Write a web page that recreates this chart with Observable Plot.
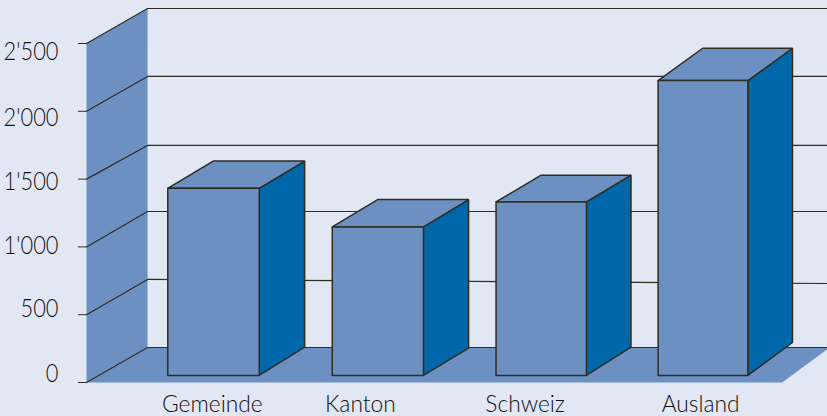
<!DOCTYPE html>
<html><head><meta charset="utf-8">
<script src="https://cdn.jsdelivr.net/npm/d3@7"></script>
<script src="https://cdn.jsdelivr.net/npm/@observablehq/plot@0.6"></script>
<style>html,body{margin:0;padding:0;background:#e1e7f3;overflow:hidden}svg{display:block}</style>
</head><body><div id="chart"></div>
<script>
const categories = ["Gemeinde", "Kanton", "Schweiz", "Ausland"];
const values = [1380, 1095, 1280, 2175];
const riseTop = [201, 202, 197, 238];
const riseBase = [209, 201, 209, 243];
const labelShift = [-0.007, -0.107, -0.1, -0.015];
const ticks = [0, 500, 1000, 1500, 2000, 2500];
const gridStart = [258, 760, 1261, 1748, 2257, 2758];
const gridEnd = [258, 730, 1261, 1748, 2257, 2758];
const labelAt = [66, 540, 1010, 1480, 1950, 2440];

const BG = "#e1e7f3", WALL = "#6d90c3", SIDE = "#0067aa", INK = "#2f2d22";
const base = 52, half = 0.278, depth = 0.276;
const wallFront = -0.772, wallBack = -0.401, floorRightFront = 3.49, floorRightBack = 3.78, gridRight = 3.8;
const wallRise = 255;

const poly = (id, pts) => pts.map(([x, y]) => ({id, x, y}));
const wall = [
  ...poly("wall", [[wallFront, 0], [wallFront, 2500], [wallBack, 2500 + wallRise], [wallBack, wallRise]]),
  ...poly("floor", [[wallFront, 0], [wallBack, wallRise], [floorRightBack, wallRise], [floorRightFront, 0]])
];
const slants = ticks.flatMap((t, i) => poly("s" + i, [[wallFront, t], [wallBack, gridStart[i]]]));
const grid = ticks.flatMap((t, i) => poly("g" + i, [[wallBack, gridStart[i]], [gridRight, gridEnd[i]]]));

const frontFaces = [], topFaces = [], sideFaces = [];
categories.forEach((c, i) => {
  const l = i - half, r = i + half, b = r + depth, y1 = base + values[i], bt = y1 + riseTop[i], bb = base + riseBase[i];
  frontFaces.push(...poly(c, [[l, base], [l, y1], [r, y1], [r, base], [l, base]]));
  topFaces.push(...poly(c, [[l, y1], [l + depth, bt], [b, bt], [r, y1], [l, y1]]));
  sideFaces.push(...poly(c, [[r, base], [r, y1], [b, bt], [b, bb], [r, base]]));
});
const face = (data, fill) => Plot.line(data, {x: "x", y: "y", z: "id", fill, stroke: INK, strokeWidth: 1.5, strokeLinejoin: "miter"});

const chart = Plot.plot({
  width: 827, height: 416,
  marginLeft: 86, marginRight: 0, marginTop: 8, marginBottom: 34,
  style: {background: BG, fontFamily: "Lato", overflow: "visible"},
  x: {type: "linear", domain: [0, 1, 2, 3], range: [213, 377.5, 541, 702.5], axis: null},
  y: {domain: [0, 2500], range: [382, 43], axis: null},
  marks: [
    Plot.line(wall, {x: "x", y: "y", z: "id", fill: WALL, stroke: "none"}),
    Plot.line(grid, {x: "x", y: "y", z: "id", stroke: INK, strokeWidth: 1.2}),
    Plot.line(slants, {x: "x", y: "y", z: "id", stroke: INK, strokeWidth: 1.2}),
    Plot.axisY(ticks, {anchor: "left", tickSize: 8, tickFormat: () => "", stroke: INK, label: null}),
    Plot.text(ticks, {
      x: () => wallFront, y: (d, i) => labelAt[i],
      text: d => d3.format(",")(d).replace(",", "'"),
      textAnchor: "end", dx: -28, fontSize: 23, fill: "#111", fontWeight: 300,
      className: "tick-label"
    }),
    face(sideFaces, SIDE), face(topFaces, WALL), face(frontFaces, WALL),
    Plot.text(categories, {
      x: (d, i) => i + labelShift[i], y: () => 0, text: d => d,
      dy: 22, fontSize: 22, fill: "#111", fontWeight: 300, lineAnchor: "middle",
      className: "cat-label"
    })
  ]
});
const stretch = (sel, s) => chart.querySelectorAll(sel + " text").forEach(t =>
  t.setAttribute("transform", (t.getAttribute("transform") || "") + ` scale(${s})`));
stretch(".tick-label", "0.95,1.09");
stretch(".cat-label", "1.035,1.03");
document.getElementById("chart").append(chart);
</script></body></html>
